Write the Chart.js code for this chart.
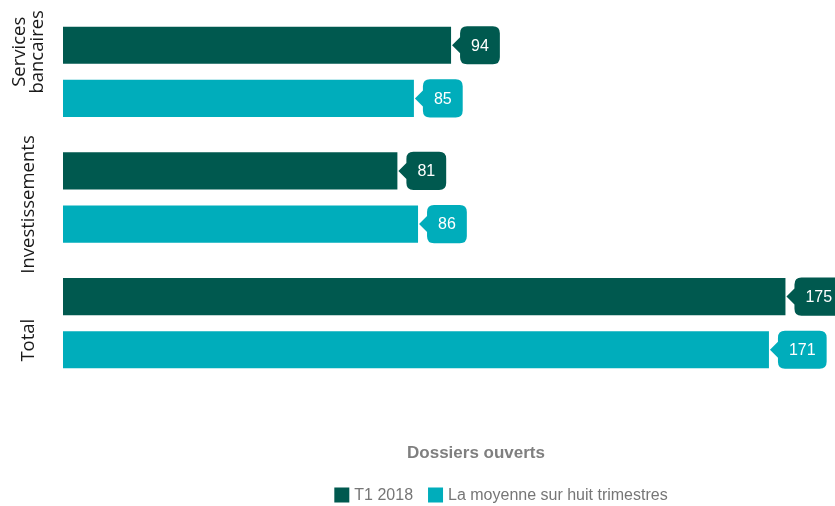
<!DOCTYPE html>
<html>
<head>
<meta charset="utf-8">
<script src="https://cdn.jsdelivr.net/npm/chart.js@4.4.0/dist/chart.umd.min.js"></script>
<style>
  html, body { margin: 0; padding: 0; background: #fff; }
  #wrap { width: 835px; height: 506px; }
</style>
</head>
<body>
<div id="wrap"><canvas id="chart"></canvas></div>
<script>
const categories = [['Services', 'bancaires'], 'Investissements', 'Total'];
const seriesNames = ['T1 2018', 'La moyenne sur huit trimestres'];
const t1Values = [94, 81, 175];
const avgValues = [85, 86, 171];
const seriesColors = ['#00594f', '#00adbb'];
const axisTitle = 'Dossiers ouverts';

// callout boxes with a small arrow pointing back at the bar end
const calloutPlugin = {
  id: 'callouts',
  afterDatasetsDraw(chart) {
    const ctx = chart.ctx;
    ctx.save();
    ctx.font = '16px "Liberation Sans", Arial, sans-serif';
    ctx.textBaseline = 'middle';
    ctx.textAlign = 'center';
    chart.data.datasets.forEach((ds, i) => {
      chart.getDatasetMeta(i).data.forEach((bar, j) => {
        const text = String(ds.data[j]);
        const tw = ctx.measureText(text).width;
        const arrow = 8, padX = 11, r = 7;
        const h = bar.height + 1;
        const w = tw + padX * 2;
        const x0 = bar.x + arrow + 1;
        const y0 = bar.y - h / 2;
        ctx.fillStyle = ds.backgroundColor;
        ctx.beginPath();
        ctx.moveTo(x0 + r, y0);
        ctx.lineTo(x0 + w - r, y0);
        ctx.quadraticCurveTo(x0 + w, y0, x0 + w, y0 + r);
        ctx.lineTo(x0 + w, y0 + h - r);
        ctx.quadraticCurveTo(x0 + w, y0 + h, x0 + w - r, y0 + h);
        ctx.lineTo(x0 + r, y0 + h);
        ctx.quadraticCurveTo(x0, y0 + h, x0, y0 + h - r);
        ctx.lineTo(x0, bar.y + arrow);
        ctx.lineTo(x0 - arrow, bar.y);
        ctx.lineTo(x0, bar.y - arrow);
        ctx.lineTo(x0, y0 + r);
        ctx.quadraticCurveTo(x0, y0, x0 + r, y0);
        ctx.closePath();
        ctx.fill();
        ctx.fillStyle = '#ffffff';
        ctx.fillText(text, x0 + w / 2, bar.y + 1);
      });
    });
    ctx.restore();
  }
};

// rotated category names, drawn at the category positions of the y scale
const yLabelPlugin = {
  id: 'yLabels',
  afterDraw(chart) {
    const ctx = chart.ctx;
    const scale = chart.scales.y;
    const shift = [-20, 7, 17]; // the original places the names a little off centre
    ctx.save();
    ctx.font = '18.5px "Open Sans", sans-serif';
    ctx.fillStyle = '#1a1a1a';
    ctx.textAlign = 'center';
    ctx.textBaseline = 'middle';
    chart.data.labels.forEach((lab, i) => {
      const lines = Array.isArray(lab) ? lab : [lab];
      const cy = scale.getPixelForTick(i) + (shift[i] || 0);
      const lh = 18;
      lines.forEach((line, k) => {
        const cx = 29 + (k - (lines.length - 1) / 2) * lh;
        ctx.save();
        ctx.translate(cx, cy);
        ctx.rotate(-Math.PI / 2);
        ctx.fillText(line, 0, 0);
        ctx.restore();
      });
    });
    ctx.restore();
  }
};

// axis title and legend drawn under the plot
const footerPlugin = {
  id: 'footer',
  afterDraw(chart) {
    const ctx = chart.ctx;
    ctx.save();
    ctx.textBaseline = 'middle';
    ctx.fillStyle = '#7f7f7f';
    ctx.font = 'bold 17px "Liberation Sans", Arial, sans-serif';
    ctx.textAlign = 'center';
    ctx.fillText(axisTitle, 476, 453);

    ctx.font = '16px "Liberation Sans", Arial, sans-serif';
    ctx.textAlign = 'left';
    const box = 15, gap = 5, between = 15;
    const widths = seriesNames.map((n) => box + gap + ctx.measureText(n).width);
    const total = widths.reduce((s, v) => s + v, 0) + between * (widths.length - 1);
    let x = 501 - total / 2;
    const y = 495;
    seriesNames.forEach((name, i) => {
      ctx.fillStyle = seriesColors[i];
      ctx.fillRect(x, y - box / 2, box, box);
      ctx.fillStyle = '#767676';
      ctx.fillText(name, x + box + gap, y + 1);
      x += widths[i] + between;
    });
    ctx.restore();
  }
};

new Chart(document.getElementById('chart'), {
  type: 'bar',
  data: {
    labels: categories,
    datasets: [
      { label: seriesNames[0], data: t1Values, backgroundColor: seriesColors[0] },
      { label: seriesNames[1], data: avgValues, backgroundColor: seriesColors[1] }
    ]
  },
  options: {
    indexAxis: 'y',
    responsive: true,
    maintainAspectRatio: false,
    animation: false,
    categoryPercentage: 0.845,
    barPercentage: 0.7,
    layout: { padding: { top: 9, bottom: 120, right: 0, left: 0 } },
    plugins: {
      legend: { display: false },
      tooltip: { enabled: false }
    },
    scales: {
      x: { display: false, min: 0, max: 187 },
      y: {
        grid: { display: false },
        border: { display: false },
        afterFit: (axis) => { axis.width = 63; },
        ticks: { display: false }
      }
    }
  },
  plugins: [calloutPlugin, yLabelPlugin, footerPlugin]
});
</script>
</body>
</html>
